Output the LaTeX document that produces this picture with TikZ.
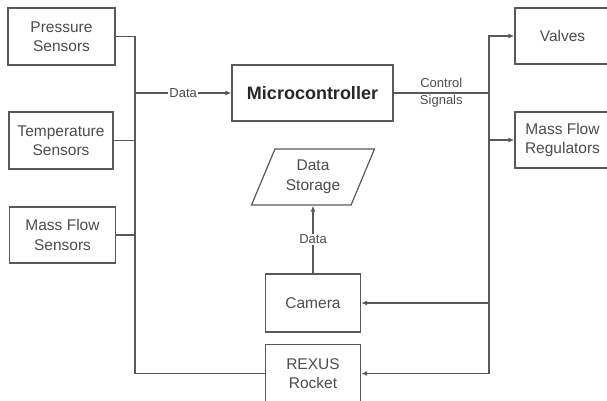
\documentclass[tikz,border=0pt]{standalone}
\usepackage{fontspec}
\setmainfont{Liberation Sans}
\usetikzlibrary{shapes.geometric, arrows.meta}

\begin{document}
\begin{tikzpicture}[x=1pt,y=-1pt,
  box/.style={draw=black!65, line width=1.2pt, align=center, text=black!70, font=\fontsize{15.5}{19.5}\selectfont, inner sep=0pt, minimum width=95pt, minimum height=56pt},
  wire/.style={draw=black!65, line width=1.2pt},
  tip/.style={wire, -{Latex[length=6pt,width=5pt]}},
  lbl/.style={text=black!70, font=\fontsize{13}{17}\selectfont, align=center, inner sep=1pt}]
\useasboundingbox (0,0) rectangle (607,401);
\clip (0,0) rectangle (607,401);
% sensors
\node[box, minimum width=107pt, minimum height=57pt] (press) at (61.5,36.5) {Pressure\\Sensors};
\node[box, minimum width=104pt, minimum height=57pt] (temp) at (61,140.5) {Temperature\\Sensors};
\node[box, minimum width=106pt] (mfs) at (62.5,235) {Mass Flow\\Sensors};
% controller and outputs
\node[box, minimum width=161pt, font=\fontsize{18}{20}\bfseries, text=black!85] (micro) at (312.5,93) {Microcontroller};
\node[box] (valves) at (562.5,36) {Valves};
\node[box] (regs) at (562.5,140) {Mass Flow\\Regulators};
\node[box, trapezium, trapezium left angle=63.4, trapezium right angle=116.6, trapezium stretches=true, minimum width=123pt] (store) at (313,177) {Data\\Storage};
\node[box, minimum height=58pt] (cam) at (313,303) {Camera};
\node[box, minimum height=58pt] (rocket) at (313,373.5) {REXUS\\Rocket};
% buses
\coordinate (lb) at (135,93);
\coordinate (rb) at (489,93);
\draw[wire] (press) -| (lb);
\draw[wire] (temp) -| (lb);
\draw[wire] (mfs) -| (lb);
\draw[wire] (rocket) -| (lb);
\draw[tip] (lb) -- node[lbl, fill=white] {Data} (micro);
\draw[wire] (micro) -- node[lbl] {Control\\Signals} (rb);
\draw[tip] (rb) |- (valves);
\draw[tip] (rb) |- (regs);
\draw[tip] (rb) |- (cam);
\draw[tip] (rb) |- (rocket);
\draw[tip] (cam) -- node[lbl, fill=white] {Data} (store);
\end{tikzpicture}
\end{document}
